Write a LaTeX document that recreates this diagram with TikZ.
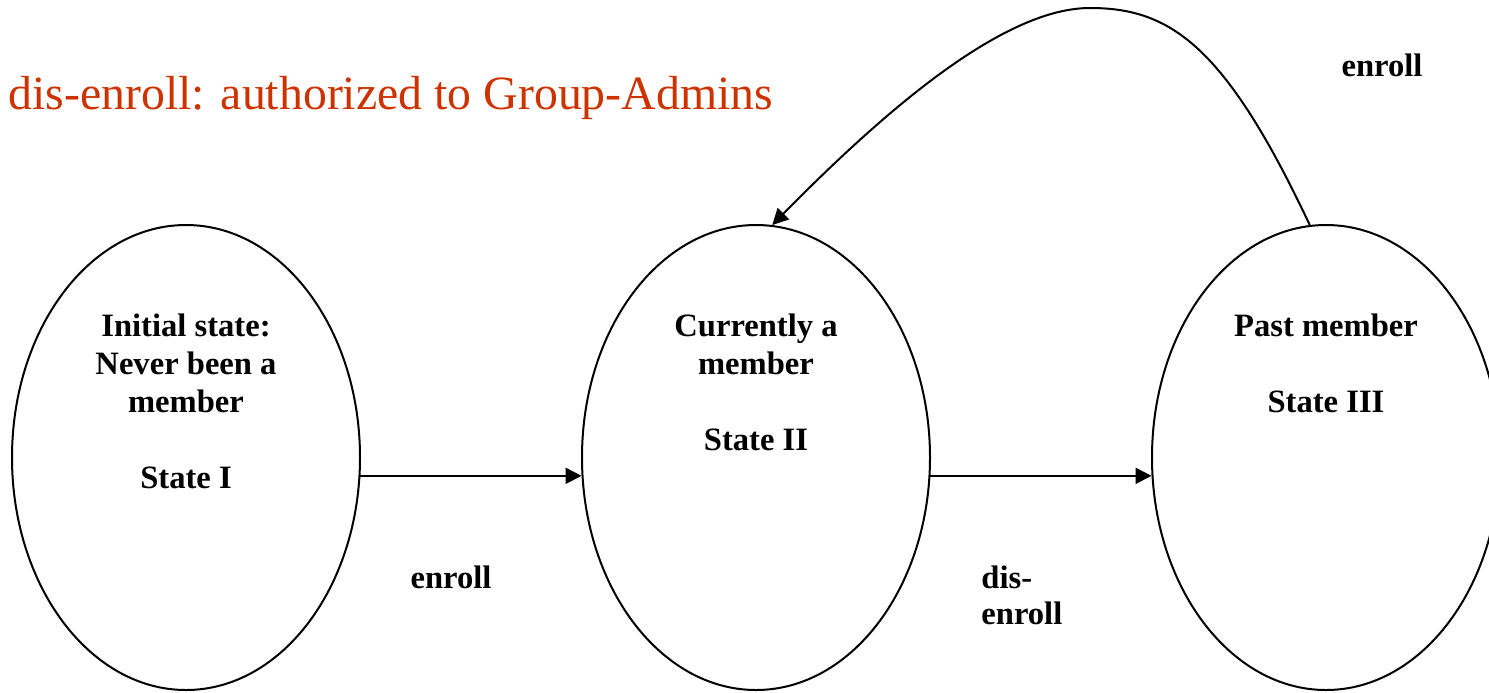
\documentclass[tikz,border=0pt]{standalone}
\usepackage{fontspec}
\setmainfont{Liberation Serif}
\usetikzlibrary{shapes.geometric,arrows.meta}
\definecolor{titlered}{HTML}{CC3300}
\begin{document}
\begin{tikzpicture}[x=0.5pt,y=-0.5pt,
  statebox/.style={draw,ellipse,line width=1pt,minimum width=174pt,minimum height=232.5pt,inner sep=0pt},
  lbl/.style={font=\bfseries\fontsize{16.3}{19}\selectfont,align=center,inner sep=0pt},
  conn/.style={line width=1pt,-{Triangle[length=8pt,width=8pt]}}]
\useasboundingbox (0,0) rectangle (1489,692);
\node[statebox] (s1) at (186,457.5) {};
\node[statebox] (s2) at (756,457.5) {};
\node[statebox] (s3) at (1326,457.5) {};
\node[lbl,anchor=north] (t1) at (186,313) {Initial state:\\Never been a\\member\\[19pt]State I};
\node[lbl,anchor=north] (t2) at (756,313) {Currently a\\member\\[19pt]State II};
\node[lbl,anchor=north] (t3) at (1326,313) {Past member\\[19pt]State III};
\node[font=\fontsize{23.9}{28}\selectfont,text=titlered,anchor=base west,inner sep=0pt] (title) at (8,109) {dis-enroll: authorized to Group-Admins};
\node[lbl,anchor=base] (l1) at (451,588) {enroll};
\node[lbl,anchor=base west,align=left,font=\bfseries\fontsize{16.3}{18}\selectfont] (l2) at (981,624) {dis-\\enroll};
\node[lbl,anchor=base] (l3) at (1382,76) {enroll};
\draw[conn] (s1.-6) -- (s2.186);
\draw[conn] (s2.-6) -- (s3.186);
\coordinate (peak) at (1090,8);
\draw[conn] (s3.94.5) .. controls (1225,45) and (1170,8) .. (peak) .. controls (1010,8) and (900,95) .. (s2.86);
\end{tikzpicture}
\end{document}
